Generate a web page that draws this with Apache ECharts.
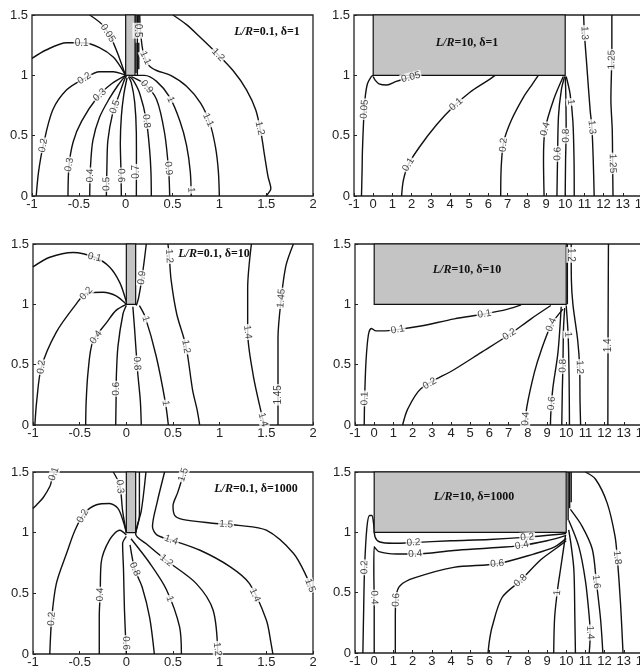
<!DOCTYPE html>
<html><head><meta charset="utf-8">
<script src="https://cdn.jsdelivr.net/npm/echarts@6/dist/echarts.min.js"></script>
<style>html,body{margin:0;padding:0;background:#fff}#c{width:640px;height:667px}</style>
</head><body><div id="c"></div>
<script>
// ---------- data ----------
const xTicksNarrow = [-1, -0.5, 0, 0.5, 1, 1.5, 2];
const xTicksWide = [-1, 0, 1, 2, 3, 4, 5, 6, 7, 8, 9, 10, 11, 12, 13, 14];
const yTicks = [0, 0.5, 1, 1.5];
const panelLR = ['0.1', '10', '0.1', '10', '0.1', '10'];
const panelDelta = ['1', '1', '10', '10', '1000', '1000'];
const blockNarrow = [0, 0.1, 1, 1.5];
const blockWide = [0, 10, 1, 1.5];

const lr01d1 = [
 {v:'0.05', pts:[[-0.384,1.5],[-0.25,1.42],[-0.15,1.3],[-0.07,1.15],[-0.02,1.04],[0,1.0]], lab:[[-0.19,1.35]]},
 {v:'0.1', pts:[[-1,1.14],[-0.85,1.21],[-0.63,1.27],[-0.45,1.27],[-0.28,1.23],[-0.13,1.15],[-0.03,1.04],[0,1.0]], lab:[[-0.47,1.27]]},
 {v:'0.2', pts:[[-0.955,0],[-0.93,0.2],[-0.88,0.42],[-0.78,0.71],[-0.63,0.88],[-0.44,0.975],[-0.28,1.03],[-0.13,1.03],[-0.03,1.01],[0,1.0]], lab:[[-0.88,0.42],[-0.44,0.975]]},
 {v:'0.3', pts:[[-0.616,0],[-0.605,0.25],[-0.56,0.45],[-0.47,0.62],[-0.3,0.82],[-0.15,0.93],[0,1.0]], lab:[[-0.6,0.26],[-0.28,0.84]]},
 {v:'0.4', pts:[[-0.384,0],[-0.375,0.25],[-0.35,0.46],[-0.28,0.65],[-0.18,0.8],[-0.08,0.92],[0,1.0]], lab:[[-0.38,0.17]]},
 {v:'0.5', pts:[[-0.206,0],[-0.2,0.25],[-0.19,0.46],[-0.14,0.68],[-0.07,0.84],[-0.01,0.97],[0.01,1.0]], lab:[[-0.2,0.1],[-0.12,0.74]]},
 {v:'0.6', pts:[[-0.046,0],[-0.05,0.2],[-0.057,0.44],[-0.046,0.66],[-0.02,0.84],[0.015,0.98]], lab:[[-0.05,0.17]]},
 {v:'0.7', pts:[[0.114,0],[0.115,0.25],[0.114,0.52],[0.096,0.78],[0.06,0.94],[0.03,0.99]], lab:[[0.114,0.2]]},
 {v:'0.8', pts:[[0.274,0],[0.27,0.2],[0.256,0.38],[0.22,0.63],[0.15,0.85],[0.08,0.96],[0.04,0.99]], lab:[[0.22,0.62]]},
 {v:'0.9', pts:[[0.47,0],[0.46,0.2],[0.416,0.52],[0.33,0.8],[0.2,0.93],[0.06,0.99]], lab:[[0.46,0.23],[0.2,0.89]]},
 {v:'1', pts:[[0.7,0],[0.69,0.2],[0.65,0.42],[0.58,0.62],[0.47,0.82],[0.33,0.95],[0.2,1.0],[0.1,1.0]], lab:[[0.69,0.05],[0.48,0.8]]},
 {v:'1.1', pts:[[1.0,0],[0.99,0.2],[0.96,0.4],[0.9,0.6],[0.8,0.77],[0.65,0.91],[0.48,1.0],[0.33,1.04],[0.25,1.08],[0.19,1.18],[0.16,1.35],[0.15,1.5]], lab:[[0.88,0.63],[0.2,1.14]]},
 {v:'1.2', pts:[[0.505,1.5],[0.65,1.42],[0.79,1.32],[0.95,1.2],[1.146,1.04],[1.29,0.88],[1.39,0.71],[1.45,0.5],[1.48,0.35],[1.52,0.16],[1.55,0.06],[1.52,0.02],[1.5,0]], lab:[[1.0,1.18],[1.42,0.56]]},
 {v:'0.5', pts:[[0.125,1.5],[0.125,1.0]], lab:[[0.125,1.37]]},
 {v:'', pts:[[0.11,1.5],[0.11,1.42]]},
 {v:'', pts:[[0.14,1.5],[0.14,1.43]]},
 {v:'', pts:[[0.11,1.27],[0.11,1.02]]},
 {v:'', pts:[[0.14,1.27],[0.14,1.05]]}
];

const lr10d1 = [
 {v:'0.05', pts:[[-0.61,0],[-0.58,0.2],[-0.56,0.38],[-0.5,0.62],[-0.43,0.8],[-0.3,0.93],[-0.1,0.99],[0,1.0]], lab:[[-0.45,0.72]]},
 {v:'0.05', pts:[[0,0.99],[0.1,0.96],[0.3,0.93],[0.7,0.92],[1.2,0.95],[1.6,0.97],[2.1,0.99]], lab:[[2.0,0.96]]},
 {v:'0.1', pts:[[1.48,0],[1.57,0.13],[1.83,0.26],[2.43,0.41],[3.3,0.59],[4.17,0.74],[5.04,0.86],[5.9,0.95],[6.35,1.0]], lab:[[1.74,0.27],[4.26,0.77]]},
 {v:'0.2', pts:[[6.64,0],[6.67,0.25],[6.8,0.45],[7.2,0.63],[7.83,0.82],[8.3,0.93],[8.6,1.0]], lab:[[6.97,0.42]]},
 {v:'0.4', pts:[[8.9,0],[8.87,0.3],[8.95,0.55],[9.4,0.8],[9.9,0.99]], lab:[[9.04,0.55]]},
 {v:'0.6', pts:[[9.57,0],[9.6,0.3],[9.65,0.66],[9.8,0.88],[9.97,0.99]], lab:[[9.6,0.35]]},
 {v:'0.8', pts:[[10.0,0],[10.02,0.3],[10.05,0.55],[10.03,0.85],[10.0,0.99]], lab:[[10.04,0.5]]},
 {v:'1', pts:[[10.47,0],[10.46,0.3],[10.4,0.62],[10.25,0.85],[10.05,0.99]], lab:[[10.3,0.78]]},
 {v:'1.3', pts:[[10.96,1.5],[11.0,1.35],[11.13,1.07],[11.3,0.71],[11.39,0.57],[11.46,0.3],[11.51,0]], lab:[[10.99,1.35],[11.39,0.57]]},
 {v:'1.25', pts:[[12.43,1.5],[12.43,1.2],[12.38,0.8],[12.45,0.55],[12.47,0.27],[12.49,0]], lab:[[12.43,1.13],[12.47,0.27]]}
];

const lr01d10 = [
 {v:'0.1', pts:[[-1,1.31],[-0.82,1.39],[-0.57,1.43],[-0.34,1.39],[-0.18,1.31],[-0.07,1.18],[0,1.02]], lab:[[-0.34,1.39]]},
 {v:'0.2', pts:[[-0.98,0],[-0.96,0.2],[-0.91,0.48],[-0.75,0.77],[-0.54,1.0],[-0.43,1.09],[-0.25,1.1],[-0.11,1.07],[0,1.0]], lab:[[-0.91,0.48],[-0.43,1.09]]},
 {v:'0.4', pts:[[-0.436,0],[-0.43,0.2],[-0.41,0.44],[-0.36,0.69],[-0.21,0.85],[-0.11,0.95],[0,1.0]], lab:[[-0.33,0.73]]},
 {v:'0.6', pts:[[-0.114,0],[-0.11,0.2],[-0.107,0.4],[-0.09,0.65],[-0.036,0.92],[0.0,0.99]], lab:[[-0.11,0.3]]},
 {v:'0.8', pts:[[0.16,0],[0.15,0.2],[0.12,0.45],[0.089,0.79],[0.07,0.98]], lab:[[0.11,0.51]]},
 {v:'1', pts:[[0.45,0],[0.42,0.18],[0.32,0.57],[0.2,0.9],[0.14,0.99]], lab:[[0.42,0.18],[0.21,0.88]]},
 {v:'0.9', pts:[[0.107,0.99],[0.13,1.05],[0.16,1.18],[0.19,1.35],[0.214,1.5]], lab:[[0.165,1.22]]},
 {v:'1.2', pts:[[0.786,0],[0.76,0.12],[0.71,0.29],[0.64,0.65],[0.54,0.92],[0.48,1.2],[0.46,1.4],[0.446,1.5]], lab:[[0.64,0.65],[0.46,1.4]]},
 {v:'1.4', pts:[[1.48,0],[1.46,0.055],[1.36,0.41],[1.3,0.77],[1.3,1.13],[1.34,1.5]], lab:[[1.45,0.04],[1.3,0.77]]},
 {v:'1.45', pts:[[1.625,0],[1.625,0.25],[1.625,0.72],[1.66,1.05],[1.71,1.32],[1.79,1.5]], lab:[[1.625,0.25],[1.66,1.05]]}
];

const lr10d10 = [
 {v:'0.1', pts:[[-0.52,0],[-0.5,0.2],[-0.43,0.52],[-0.3,0.75],[-0.15,0.8],[0.1,0.78],[0.43,0.78],[1.2,0.79],[2.43,0.82],[4.17,0.88],[5.74,0.92],[6.96,0.96],[7.65,0.995]], lab:[[-0.5,0.22],[1.22,0.79],[5.74,0.92]]},
 {v:'0.2', pts:[[1.48,0],[1.74,0.13],[2.43,0.3],[4.17,0.46],[5.56,0.6],[7.04,0.75],[8.17,0.88],[9.2,0.99]], lab:[[2.9,0.34],[7.04,0.75]]},
 {v:'0.4', pts:[[7.86,0],[7.95,0.15],[8.35,0.44],[8.7,0.62],[9.22,0.83],[9.83,0.96]], lab:[[7.9,0.05],[9.22,0.83]]},
 {v:'0.6', pts:[[9.18,0],[9.2,0.1],[9.3,0.3],[9.57,0.6],[9.74,0.98]], lab:[[9.2,0.18]]},
 {v:'0.8', pts:[[9.77,0],[9.8,0.3],[9.83,0.5],[9.86,0.8],[9.92,0.97]], lab:[[9.83,0.49]]},
 {v:'1', pts:[[10.17,0],[10.15,0.4],[10.1,0.75],[10.0,0.99]], lab:[[10.12,0.75]]},
 {v:'1.2', pts:[[10.75,0],[10.72,0.2],[10.7,0.48],[10.6,0.7],[10.35,1.0],[10.27,1.2],[10.26,1.5]], lab:[[10.7,0.48],[10.26,1.41]]},
 {v:'1.4', pts:[[12.17,0],[12.18,0.75],[12.2,1.5]], lab:[[12.18,0.66]]},
 {v:'', pts:[[10.06,1.5],[10.06,1.0]]}
];

const lr01d1000 = [
 {v:'0.1', pts:[[-0.77,1.5],[-0.8,1.43],[-0.82,1.38],[-0.89,1.29],[-0.96,1.23],[-1,1.2]], lab:[[-0.76,1.48]]},
 {v:'0.2', pts:[[-0.82,0],[-0.8,0.29],[-0.75,0.58],[-0.64,0.83],[-0.55,1.02],[-0.45,1.16],[-0.32,1.23],[-0.18,1.24],[-0.09,1.2],[-0.036,1.1],[0,1.0]], lab:[[-0.8,0.29],[-0.45,1.13]]},
 {v:'0.3', pts:[[-0.14,1.5],[-0.07,1.39],[-0.04,1.18],[0,1.0]], lab:[[-0.07,1.38]]},
 {v:'0.4', pts:[[-0.29,0],[-0.29,0.31],[-0.28,0.5],[-0.27,0.75],[-0.18,0.94],[-0.07,1.02],[0,0.98]], lab:[[-0.285,0.49]]},
 {v:'0.6', pts:[[0,0],[-0.02,0.36],[-0.03,0.69],[-0.04,0.91],[0,0.97]], lab:[[0,0.09]]},
 {v:'0.8', pts:[[0.3,0],[0.25,0.3],[0.17,0.55],[0.09,0.7],[0.04,0.9]], lab:[[0.09,0.7]]},
 {v:'1', pts:[[0.59,0],[0.57,0.225],[0.43,0.53],[0.25,0.75],[0.05,0.95]], lab:[[0.48,0.46]]},
 {v:'1.2', pts:[[0.98,0],[0.93,0.36],[0.75,0.58],[0.43,0.77],[0.21,0.91],[0.1,0.99],[0.16,1.18],[0.21,1.5]], lab:[[0.96,0.04],[0.43,0.77]]},
 {v:'1.4', pts:[[1.57,0],[1.55,0.09],[1.5,0.28],[1.32,0.58],[1.11,0.72],[0.79,0.855],[0.48,0.94],[0.33,0.98],[0.28,1.05],[0.33,1.25],[0.41,1.5]], lab:[[0.48,0.94],[1.42,0.5]]},
 {v:'1.5', pts:[[0.62,1.5],[0.55,1.33],[0.5,1.22],[0.52,1.14],[0.6,1.11],[0.9,1.08],[1.2,1.06],[1.5,1.02],[1.79,0.83],[1.93,0.64],[2.0,0.5]], lab:[[0.6,1.48],[1.07,1.075],[1.95,0.56]]},
 {v:'', pts:[[0.14,1.5],[0.14,1.15],[0.1,1.0]]}
];

const lr10d1000 = [
 {v:'0.2', pts:[[-0.59,0],[-0.55,0.35],[-0.5,0.71],[-0.38,1.04],[-0.24,1.14],[-0.12,1.14],[-0.03,1.07],[0.05,0.96],[0.3,0.92],[1,0.91],[2,0.915],[4,0.93],[6,0.94],[8,0.96],[10,0.99]], lab:[[-0.5,0.71],[2.05,0.915],[7.97,0.96]]},
 {v:'0.4', pts:[[0,0],[0,0.4],[-0.02,0.7],[0,0.88],[0.25,0.84],[1.18,0.82],[2.1,0.82],[4.14,0.85],[6,0.87],[7.6,0.89],[9,0.93],[10,0.975]], lab:[[0,0.46],[2.14,0.82],[7.7,0.89]]},
 {v:'0.6', pts:[[1.1,0],[1.1,0.3],[1.15,0.48],[1.36,0.56],[2.05,0.62],[4.14,0.71],[6.4,0.74],[8.3,0.82],[9.4,0.88],[10,0.95]], lab:[[1.15,0.44],[6.4,0.74]]},
 {v:'0.8', pts:[[5.93,0],[6.0,0.1],[6.14,0.215],[6.66,0.46],[7.62,0.6],[8.66,0.77],[9.5,0.87],[10,0.93]], lab:[[7.62,0.6]]},
 {v:'1', pts:[[9.35,0],[9.4,0.3],[9.57,0.55],[9.7,0.69],[9.96,0.97]], lab:[[9.53,0.5]]},
 {v:'', pts:[[10.48,0],[10.45,0.3],[10.4,0.69],[10.25,0.9],[10.13,1.02]]},
 {v:'1.4', pts:[[10.13,1.1],[10.66,0.88],[11.0,0.6],[11.2,0.3],[11.25,0.15],[11.2,0]], lab:[[11.27,0.17]]},
 {v:'1.6', pts:[[10.22,1.19],[10.83,1.05],[11.36,0.86],[11.57,0.59],[11.79,0.28],[11.91,0]], lab:[[11.57,0.59]]},
 {v:'1.8', pts:[[11.0,1.5],[11.53,1.44],[12.14,1.24],[12.54,0.97],[12.66,0.79],[12.83,0.41],[12.96,0]], lab:[[12.66,0.79]]},
 {v:'', pts:[[10.1,1.5],[10.1,1.1]]},
 {v:'', pts:[[10.18,1.5],[10.18,1.2]]},
 {v:'', pts:[[10.26,1.5],[10.26,1.25]]}
];

// ---------- layout / styles ----------
const panels = [lr01d1, lr10d1, lr01d10, lr10d10, lr01d1000, lr10d1000];
const blocks = [blockNarrow, blockWide, blockNarrow, blockWide, blockNarrow, blockWide];
const gridBoxes = [
  {left:32, top:15, width:281, height:181},
  {left:354, top:15, width:288, height:181},
  {left:33, top:244, width:280, height:181},
  {left:355, top:244, width:288, height:181},
  {left:33, top:472, width:280, height:182},
  {left:355, top:472, width:288, height:181}
];
const titlePos = [[267,32],[467,43],[214,254],[467,270],[256,489],[474,497]];
const tickFont = '"Liberation Sans Narrow","Liberation Sans",Arial,sans-serif';

const chart = echarts.init(document.getElementById('c'), null, {renderer:'canvas'});

const grids = gridBoxes.map(b => Object.assign({show:true, borderColor:'#222', borderWidth:1.3, backgroundColor:'#fff', outerBoundsMode:'none', containLabel:false}, b));
const xAxes = panels.map((p,i) => {
  const t = (i % 2 === 0) ? xTicksNarrow : xTicksWide;
  return {type:'value', gridIndex:i, min:t[0], max:t[t.length-1], interval:t[1]-t[0],
    axisLine:{show:false, onZero:false}, splitLine:{show:false},
    axisTick:{show:true, inside:true, length:3, lineStyle:{color:'#222'}},
    axisLabel:{show:true, margin:2, fontSize:13, color:'#222', fontFamily:tickFont, showMinLabel:true, showMaxLabel:true}};
});
const yAxes = panels.map((p,i) => ({type:'value', gridIndex:i, min:yTicks[0], max:yTicks[yTicks.length-1], interval:yTicks[1]-yTicks[0],
    axisLine:{show:false, onZero:false}, splitLine:{show:false},
    axisTick:{show:true, inside:true, length:3, lineStyle:{color:'#222'}},
    axisLabel:{show:true, margin:4, fontSize:13, color:'#222', fontFamily:tickFont, showMinLabel:true, showMaxLabel:true}}));

const series = [];
panels.forEach((p,i) => {
  p.forEach(c => {
    series.push({type:'line', xAxisIndex:i, yAxisIndex:i, data:c.pts, showSymbol:false, symbol:'none',
      smooth:0.3, clip:true, silent:true, z:2, lineStyle:{color:'#111', width:1.4}, animation:false});
  });
  series.push({type:'custom', xAxisIndex:i, yAxisIndex:i, data:[blocks[i]], z:5, silent:true, animation:false,
    encode:{x:[0,1], y:[2,3]},
    renderItem:(params, api) => {
      const a = api.coord([api.value(0), api.value(3)]);
      const b = api.coord([api.value(1), api.value(2)]);
      return {type:'rect', shape:{x:a[0], y:a[1], width:b[0]-a[0], height:b[1]-a[1]},
        style:{fill:'#c4c4c4', stroke:'#111', lineWidth:1.2}};
    }});
});

const graphic = panelLR.map((lr,i) => ({type:'text', x:titlePos[i][0], y:titlePos[i][1], z:100,
  style:{text:'{i|L/R}{b|=' + lr + ', δ=' + panelDelta[i] + '}', align:'center', verticalAlign:'middle',
    rich:{i:{fontFamily:'"Liberation Serif",serif', fontStyle:'italic', fontWeight:'bold', fontSize:12, fill:'#111', color:'#111'},
          b:{fontFamily:'"Liberation Serif",serif', fontWeight:'bold', fontSize:12, fill:'#111', color:'#111'}}}}));

chart.setOption({animation:false, backgroundColor:'#fff', grid:grids, xAxis:xAxes, yAxis:yAxes, series:series, graphic:graphic});

// ---------- contour labels: snap onto the lines via the chart's own scales ----------
function snap(gi, pts, target) {
  const P = pts.map(q => chart.convertToPixel({gridIndex:gi}, q));
  const T = chart.convertToPixel({gridIndex:gi}, target);
  let best = null;
  for (let k = 0; k < P.length - 1; k++) {
    const a = P[k], b = P[k+1];
    const dx = b[0]-a[0], dy = b[1]-a[1];
    const L2 = dx*dx + dy*dy || 1;
    let t = ((T[0]-a[0])*dx + (T[1]-a[1])*dy) / L2;
    t = Math.max(0, Math.min(1, t));
    const q = [a[0]+t*dx, a[1]+t*dy];
    const d = (q[0]-T[0])**2 + (q[1]-T[1])**2;
    if (!best || d < best.d) best = {d, q, dx, dy};
  }
  let ang = Math.atan2(-best.dy, best.dx) * 180 / Math.PI;
  if (ang > 90) ang -= 180;
  if (ang < -90) ang += 180;
  return {value: chart.convertFromPixel({gridIndex:gi}, best.q), ang};
}
const labelSeries = panels.map((p,i) => {
  const data = [];
  p.forEach(c => {
    (c.lab || []).forEach(t => {
      const s = snap(i, c.pts, t);
      data.push({value:s.value, label:{formatter:c.v, rotate:Math.round(s.ang)}});
    });
  });
  return {type:'scatter', xAxisIndex:i, yAxisIndex:i, data:data, symbolSize:1, z:10, silent:true, animation:false,
    itemStyle:{color:'rgba(0,0,0,0)'},
    label:{show:true, position:'inside', fontSize:10, color:'#111', fontFamily:'"Liberation Sans",Arial,sans-serif',
      backgroundColor:'#fff', padding:[0,1], lineHeight:10}};
});
chart.setOption({series: series.concat(labelSeries)});
</script>
</body></html>
